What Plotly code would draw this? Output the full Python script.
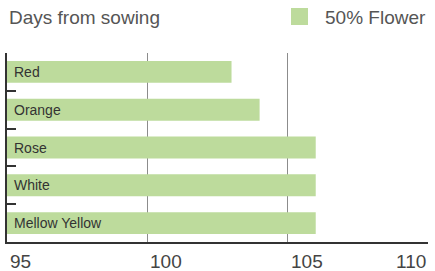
import plotly.graph_objects as go

categories = ["Red", "Orange", "Rose", "White", "Mellow Yellow"]
flower_days = [103, 104, 106, 106, 106]
x_ticks = [95, 100, 105, 110]
series_name = "50% Flower"
title_text = "Days from sowing"

BAR = "#bddb9c"
FONT = "Liberation Sans, Arial, sans-serif"

fig = go.Figure()
fig.add_trace(go.Bar(
    y=categories, x=flower_days, orientation="h", name=series_name,
    marker=dict(color=BAR, line=dict(width=0)), width=0.58,
    showlegend=False, hoverinfo="x+y",
))

annotations = []
for c in categories:
    annotations.append(dict(x=x_ticks[0], y=c, xref="x", yref="y", text=c,
                            showarrow=False, xanchor="left", xshift=5,
                            font=dict(family=FONT, size=14, color="#333333")))
for i, t in enumerate(x_ticks):
    annotations.append(dict(x=t, y=0, xref="x", yref="paper", text=str(t),
                            showarrow=False,
                            xanchor="right" if i == len(x_ticks) - 1 else "left",
                            yanchor="top", yshift=-7, xshift=1 if i < len(x_ticks) - 1 else 0,
                            font=dict(family=FONT, size=19, color="#444444")))
annotations.append(dict(x=0, y=1, xref="paper", yref="paper", text=title_text,
                        showarrow=False, xanchor="left", yanchor="middle",
                        yshift=36, font=dict(family=FONT, size=19, color="#555555")))
annotations.append(dict(x=1, y=1, xref="paper", yref="paper", text=series_name,
                        showarrow=False, xanchor="right", yanchor="middle",
                        yshift=36, font=dict(family=FONT, size=19, color="#555555")))

fig.update_layout(
    width=435, height=271,
    margin=dict(l=7, r=7, t=53, b=29),
    paper_bgcolor="white", plot_bgcolor="white",
    annotations=annotations,
    shapes=[dict(type="rect", xref="paper", yref="paper",
                 x0=(291 - 7) / 421, x1=(308 - 7) / 421,
                 y0=1 + (53 - 25) / 189, y1=1 + (53 - 8) / 189,
                 fillcolor=BAR, line=dict(width=0))],
    font=dict(family=FONT),
)
fig.update_xaxes(range=[95, 110], tickvals=x_ticks, showticklabels=False,
                 showgrid=True, gridcolor="#8c8c8c", gridwidth=1,
                 showline=True, linecolor="#333333", linewidth=1.5,
                 ticks="", zeroline=False, fixedrange=True)
fig.update_yaxes(categoryorder="array", categoryarray=categories, autorange="reversed",
                 showticklabels=False, showgrid=False, tickson="boundaries",
                 ticks="inside", ticklen=9, tickwidth=1.5, tickcolor="#333333",
                 showline=True, linecolor="#333333", linewidth=1.5, fixedrange=True)

fig.write_html("out.html", config={"displayModeBar": False},
               post_script="document.body.style.margin='0';document.body.style.overflow='hidden';")
